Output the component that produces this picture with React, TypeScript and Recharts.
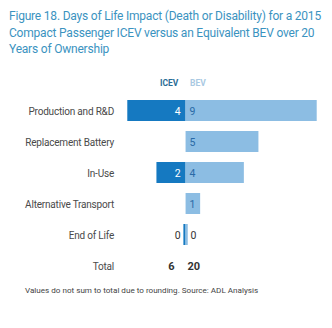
import { BarChart, Bar, XAxis, YAxis, LabelList, ReferenceDot } from "recharts";

const categories = [
  "Production and R&D",
  "Replacement Battery",
  "In-Use",
  "Alternative Transport",
  "End of Life",
  "Total",
];
const icevValues = [4, 0, 2, 0, 0.15, 0];
const bevValues = [9, 5, 4, 1, 0.15, 0];
const icevLabels = ["4", "", "2", "", "0", ""];
const bevLabels = ["9", "5", "4", "1", "0", ""];
const icevTotal = 6;
const bevTotal = 20;

const ICEV_COLOR = "#1579c1";
const BEV_COLOR = "#8cbde3";
const FONT = "Roboto, 'Noto Sans', sans-serif";

const data = categories.map((name, i) => ({
  name,
  icev: -icevValues[i],
  bev: bevValues[i],
  icevLabel: icevLabels[i],
  bevLabel: bevLabels[i],
}));

function CategoryTick(props: any) {
  const { x, y, payload } = props;
  return (
    <text
      x={x - 4}
      y={y}
      dy={4}
      textAnchor="end"
      fontSize={10}
      letterSpacing={-0.2}
      fill="#4a4a4a"
      fontFamily={FONT}
    >
      {payload.value}
    </text>
  );
}

function IcevLabel(props: any) {
  const { x, y, width, height, value } = props;
  if (!value) return null;
  const zero = Math.max(x, x + width);
  const inside = Math.abs(width) > 12;
  return (
    <text
      x={zero - 5}
      y={y + height / 2}
      dy={4}
      textAnchor="end"
      fontSize={10.5}
      fill={inside ? "#ffffff" : "#333333"}
      fontFamily={FONT}
    >
      {value}
    </text>
  );
}

function BevLabel(props: any) {
  const { x, y, width, height, value } = props;
  if (!value) return null;
  const zero = Math.min(x, x + width);
  const inside = Math.abs(width) > 8;
  return (
    <text
      x={zero + (inside ? 4 : 5)}
      y={y + height / 2}
      dy={4}
      textAnchor="start"
      fontSize={10.5}
      fill={inside ? "#2a6aa6" : "#333333"}
      fontFamily={FONT}
    >
      {value}
    </text>
  );
}

function TotalShape(props: any) {
  const { cx, cy } = props;
  return (
    <g fontFamily={FONT} fontSize={11} fontWeight={700} fill="#333333">
      <text x={cx - 11} y={cy} dy={4} textAnchor="end">
        {icevTotal}
      </text>
      <text x={cx + 2} y={cy} dy={4} textAnchor="start">
        {bevTotal}
      </text>
    </g>
  );
}

export default function App() {
  return (
    <div style={{ position: "absolute", left: 0, top: 0, width: 332, height: 328, background: "#fff", fontFamily: FONT }}>
      <div
        style={{
          position: "absolute",
          left: 9,
          top: 8,
          fontSize: 12,
          letterSpacing: -0.2,
          lineHeight: "16.5px",
          color: "#3b93bf",
          whiteSpace: "nowrap",
        }}
      >
        Figure 18. Days of Life Impact (Death or Disability) for a 2015
        <br />
        Compact Passenger ICEV versus an Equivalent BEV over 20
        <br />
        Years of Ownership
      </div>
      <div style={{ position: "absolute", left: 160, top: 78, fontSize: 8.5, fontWeight: 700, color: "#2b6d96" }}>ICEV</div>
      <div style={{ position: "absolute", left: 190, top: 78, fontSize: 8.5, fontWeight: 700, color: "#a9c9e2" }}>BEV</div>
      <BarChart
        width={332}
        height={328}
        data={data}
        layout="vertical"
        stackOffset="sign"
        barSize={21}
        margin={{ top: 95, right: 8, bottom: 47, left: 0 }}
      >
        <XAxis type="number" domain={[-4.5, 9.5]} hide />
        <YAxis
          type="category"
          dataKey="name"
          width={120}
          axisLine={false}
          tickLine={false}
          tickSize={0}
          tick={<CategoryTick />}
        />
        <Bar dataKey="icev" stackId="a" fill={ICEV_COLOR} isAnimationActive={false}>
          <LabelList dataKey="icevLabel" content={<IcevLabel />} />
        </Bar>
        <Bar dataKey="bev" stackId="a" fill={BEV_COLOR} isAnimationActive={false}>
          <LabelList dataKey="bevLabel" content={<BevLabel />} />
        </Bar>
        <ReferenceDot x={0} y="Total" r={1} shape={<TotalShape />} />
      </BarChart>
      <div style={{ position: "absolute", left: 25, top: 285, fontSize: 8.1, color: "#444", whiteSpace: "nowrap" }}>
        Values do not sum to total due to rounding. Source: ADL Analysis
      </div>
    </div>
  );
}
